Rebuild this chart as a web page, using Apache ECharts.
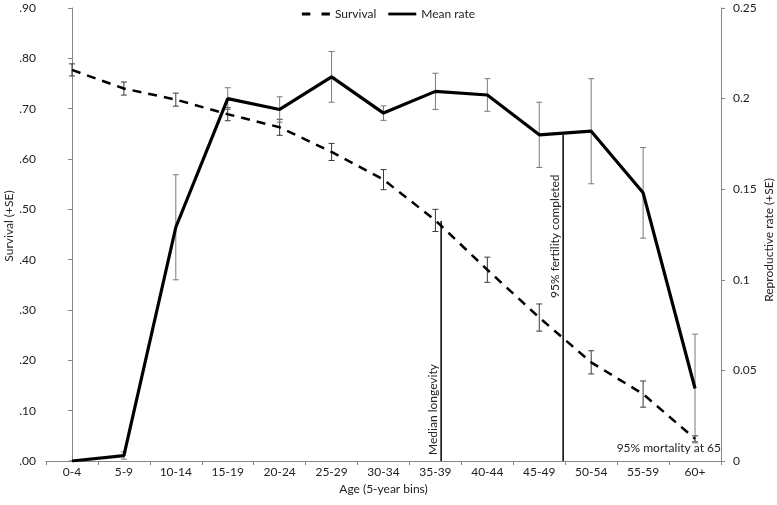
<!DOCTYPE html>
<html>
<head>
<meta charset="utf-8">
<script src="https://cdn.jsdelivr.net/npm/echarts@6/dist/echarts.min.js"></script>
<style>
  html, body { margin: 0; padding: 0; background: #fff; }
  #chart { width: 777px; height: 505px; }
</style>
</head>
<body>
<div id="chart"></div>
<script>
var ageBins = ['0-4', '5-9', '10-14', '15-19', '20-24', '25-29', '30-34', '35-39', '40-44', '45-49', '50-54', '55-59', '60+'];
// survival (left axis) and its standard error
var survival = [0.777, 0.740, 0.718, 0.689, 0.663, 0.614, 0.559, 0.478, 0.380, 0.285, 0.196, 0.133, 0.044];
var survivalSE = [0.012, 0.013, 0.013, 0.013, 0.016, 0.017, 0.020, 0.022, 0.025, 0.027, 0.023, 0.026, 0.006];
// mean reproductive rate (right axis) and its standard error
var meanRate = [0.000, 0.003, 0.129, 0.200, 0.194, 0.212, 0.192, 0.204, 0.202, 0.180, 0.182, 0.148, 0.040];
var meanRateSE = [0.000, 0.002, 0.029, 0.006, 0.007, 0.014, 0.004, 0.010, 0.009, 0.018, 0.029, 0.025, 0.030];
// reference lines: position along the age axis (bin units), height, axis used
var refNames = ['Median longevity', '95% fertility completed'];
var refPos = [7.11, 9.46];
var refTop = [0.477, 0.180];
var refAxis = [0, 1];
var refLabelFrom = [0.012, 0.090];
var mortalityNote = '95% mortality at 65';

var FONT = 'Lato';
var chart = echarts.init(document.getElementById('chart'));

function errorBars(values, se) {
  return values.map(function (v, i) { return [i, v - se[i], v + se[i]]; });
}

function renderErrorBar(color) {
  return function (params, api) {
    var lo = api.coord([api.value(0), api.value(1)]);
    var hi = api.coord([api.value(0), api.value(2)]);
    var c = 3;
    var st = { stroke: color, lineWidth: 1 };
    return {
      type: 'group',
      children: [
        { type: 'line', shape: { x1: lo[0], y1: lo[1], x2: hi[0], y2: hi[1] }, style: st },
        { type: 'line', shape: { x1: lo[0] - c, y1: lo[1], x2: lo[0] + c, y2: lo[1] }, style: st },
        { type: 'line', shape: { x1: hi[0] - c, y1: hi[1], x2: hi[0] + c, y2: hi[1] }, style: st }
      ]
    };
  };
}

function renderRefLine(name) {
  return function (params, api) {
    var base = api.coord([api.value(0), 0]);
    var top = api.coord([api.value(0), api.value(1)]);
    var lab = api.coord([api.value(0), api.value(2)]);
    return {
      type: 'group',
      children: [
        { type: 'line', shape: { x1: base[0], y1: base[1], x2: top[0], y2: top[1] },
          style: { stroke: '#000', lineWidth: 1.5 } },
        { type: 'text', x: base[0] - 2, y: lab[1], rotation: Math.PI / 2,
          style: { text: name, fill: '#222', font: '12px ' + FONT, align: 'left', verticalAlign: 'bottom' } }
      ]
    };
  };
}

var series = [
  {
    name: 'Survival', type: 'line', xAxisIndex: 0, yAxisIndex: 0, data: survival,
    symbol: 'none', z: 5,
    lineStyle: { color: '#000', width: 2.5, type: [9, 7] },
    itemStyle: { color: '#000' }
  },
  {
    name: 'Mean rate', type: 'line', xAxisIndex: 0, yAxisIndex: 1, data: meanRate,
    symbol: 'none', z: 5,
    lineStyle: { color: '#000', width: 3.2 },
    itemStyle: { color: '#000' }
  },
  {
    type: 'custom', xAxisIndex: 0, yAxisIndex: 0, z: 4, silent: true,
    renderItem: renderErrorBar('#3a3a3a'),
    data: errorBars(survival, survivalSE)
  },
  {
    type: 'custom', xAxisIndex: 0, yAxisIndex: 1, z: 4, silent: true,
    renderItem: renderErrorBar('#7a7a7a'),
    data: errorBars(meanRate, meanRateSE)
  },
  {
    type: 'custom', xAxisIndex: 1, yAxisIndex: 0, z: 6, silent: true,
    renderItem: function (params, api) {
      var p = api.coord([api.value(0), api.value(1)]);
      return { type: 'text', x: p[0], y: p[1],
        style: { text: mortalityNote, fill: '#222', font: '12px ' + FONT, align: 'right', verticalAlign: 'middle' } };
    },
    data: [[12.5, 0.025]]
  }
];

refNames.forEach(function (name, i) {
  series.push({
    type: 'custom', xAxisIndex: 1, yAxisIndex: refAxis[i], z: 6, silent: true,
    renderItem: renderRefLine(name),
    data: [[refPos[i], refTop[i], refLabelFrom[i]]]
  });
});

var axisLine = { show: true, lineStyle: { color: '#868686', width: 1 } };
var axisTick = { show: true, length: 4, lineStyle: { color: '#868686' } };
var titleStyle = { fill: '#222', font: '12px ' + FONT, align: 'center', verticalAlign: 'middle' };

chart.setOption({
  animation: false,
  textStyle: { fontFamily: FONT },
  legend: {
    top: 3, left: 'center',
    data: [
      { name: 'Survival', icon: 'path://M0,0H9V3H0Z M21,0H30V3H21Z' },
      { name: 'Mean rate', icon: 'path://M0,0H30V3H0Z' }
    ],
    itemWidth: 28, itemHeight: 3, itemGap: 12,
    itemStyle: { color: '#000' },
    textStyle: { fontFamily: FONT, fontSize: 12, color: '#222' }
  },
  // axis titles
  graphic: [
    { type: 'text', x: 9, y: 226, rotation: Math.PI / 2, style: Object.assign({ text: 'Survival (+SE)' }, titleStyle) },
    { type: 'text', x: 769, y: 240, rotation: Math.PI / 2, style: Object.assign({ text: 'Reproductive rate (+SE)' }, titleStyle) }
  ],
  grid: { left: 46, right: 56, top: 8, bottom: 44, containLabel: false },
  xAxis: [
    {
      type: 'category', data: ageBins, boundaryGap: true,
      name: 'Age (5-year bins)', nameLocation: 'middle', nameGap: 21,
      nameTextStyle: { fontFamily: FONT, fontSize: 12, color: '#222' },
      axisLine: axisLine,
      axisTick: axisTick,
      axisLabel: { fontFamily: FONT, fontSize: 12, color: '#222', margin: 5 },
      splitLine: { show: false }
    },
    { type: 'value', min: -0.5, max: 12.5, show: false }
  ],
  yAxis: [
    {
      type: 'value', min: 0, max: 0.9, interval: 0.1, position: 'left',
      axisLine: axisLine,
      axisTick: axisTick,
      axisLabel: {
        fontFamily: FONT, fontSize: 12, color: '#222', margin: 10,
        formatter: function (v) { return v.toFixed(2).replace(/^0/, ''); }
      },
      splitLine: { show: false }
    },
    {
      type: 'value', min: 0, max: 0.25, interval: 0.05, position: 'right',
      axisLine: axisLine,
      axisTick: axisTick,
      axisLabel: {
        fontFamily: FONT, fontSize: 12, color: '#222', margin: 12,
        formatter: function (v) { return String(+v.toFixed(2)); }
      },
      splitLine: { show: false }
    }
  ],
  series: series
});
</script>
</body>
</html>
